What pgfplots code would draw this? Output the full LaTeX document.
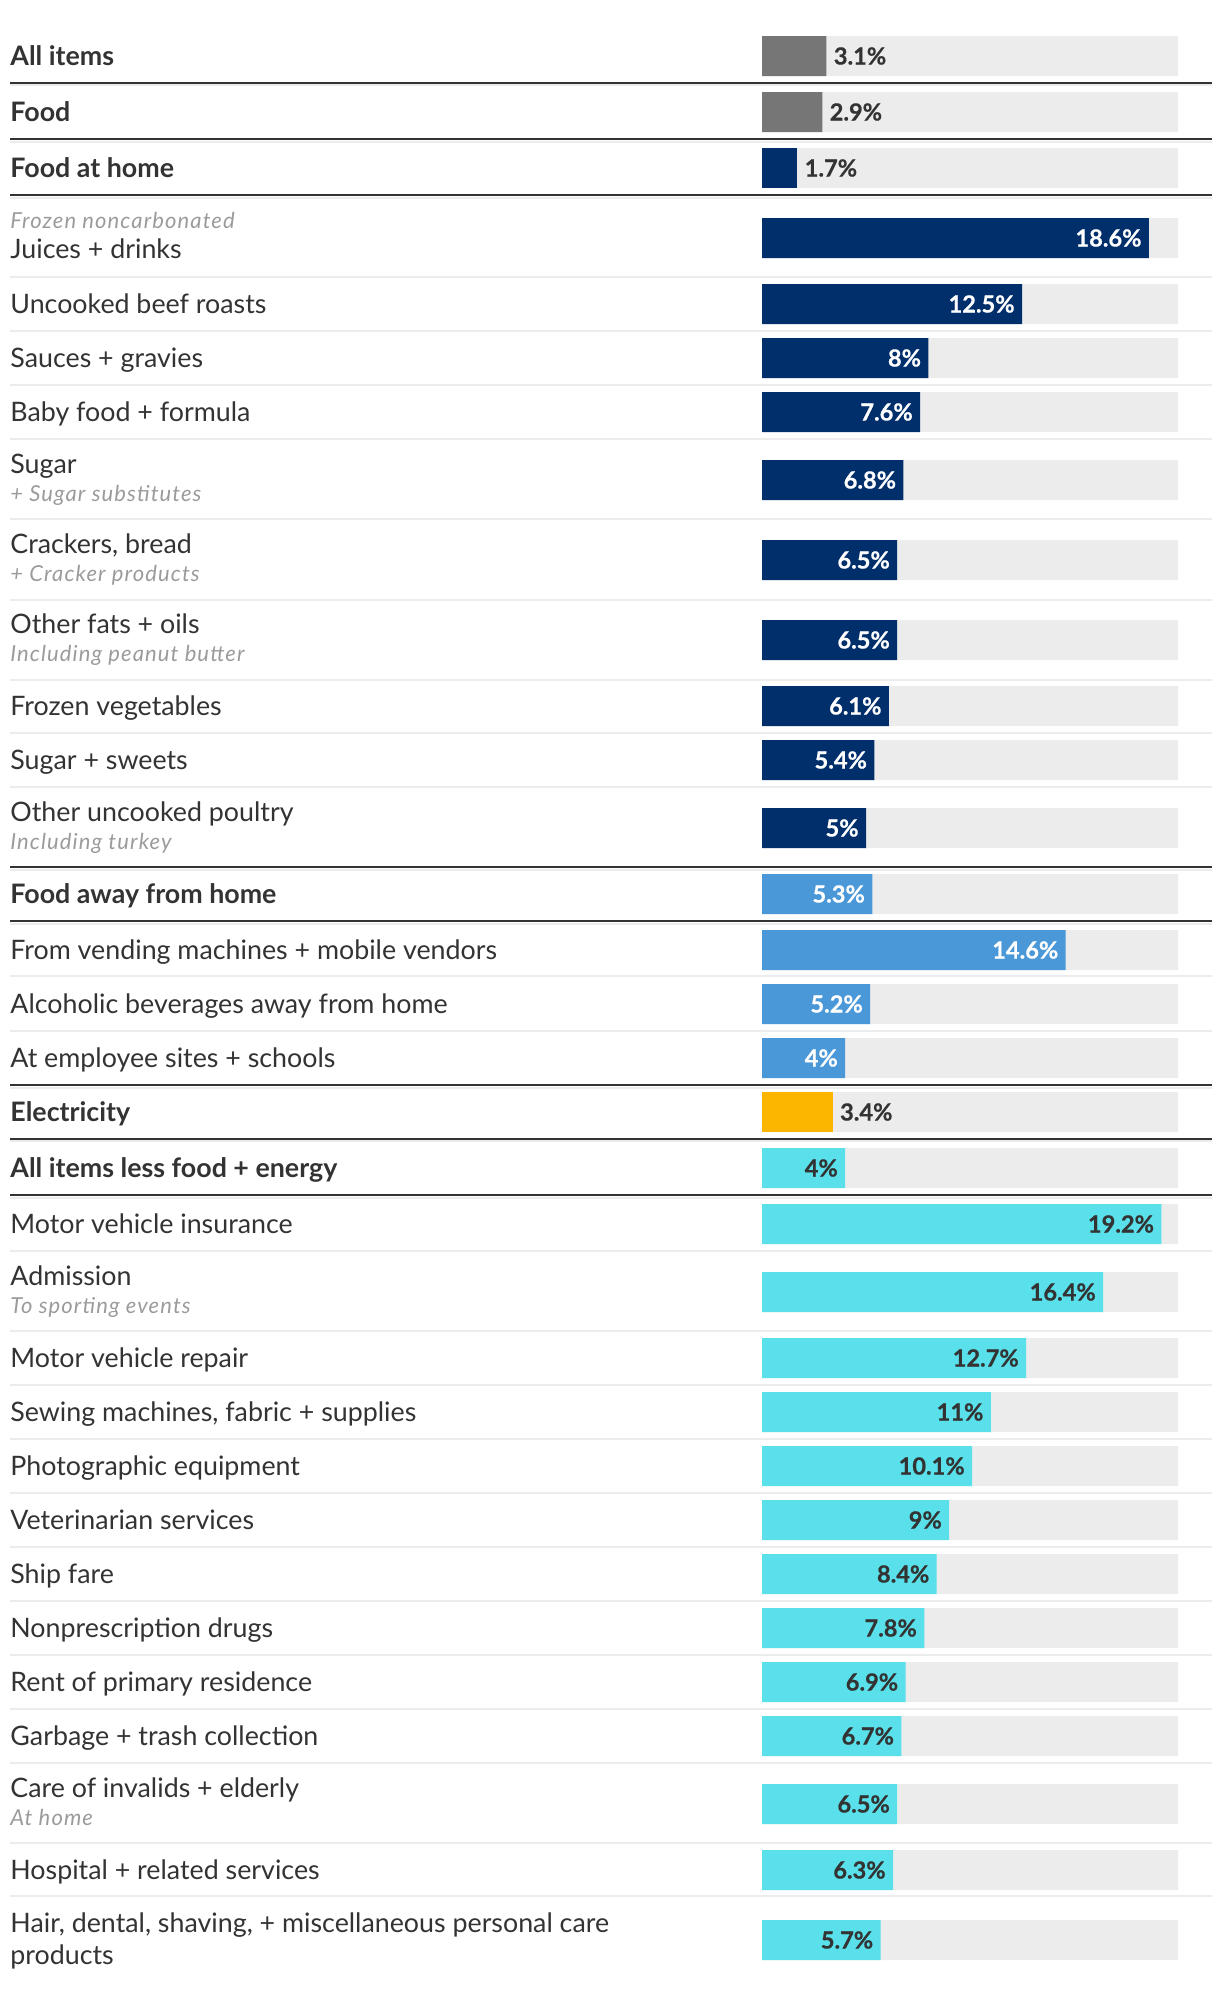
\documentclass[border=0pt]{standalone}
\usepackage{fontspec}
\setmainfont{Lato}
\newfontfamily\subfam[LetterSpace=5]{Lato}
\newfontfamily\valfam[BoldFeatures={FakeBold=0.6}]{Lato}
\usepackage{pgfplots}
\pgfplotsset{compat=1.18}
\definecolor{navy}{HTML}{002F6C}
\definecolor{gbar}{HTML}{767676}
\definecolor{lblue}{HTML}{4A98D8}
\definecolor{amber}{HTML}{FDB600}
\definecolor{cyanb}{HTML}{59E0EA}
\definecolor{bgc}{HTML}{ECECEC}
\definecolor{txt}{HTML}{333333}
\definecolor{subc}{HTML}{9B9B9B}
\definecolor{divl}{HTML}{ECECEC}
\newcommand\mainf{\fontsize{13.4}{16}\selectfont}
\newcommand\subf{\subfam\fontsize{11}{13}\selectfont\itshape}
\newcommand\valf{\valfam\fontsize{11.8}{14}\selectfont\bfseries}
\newcommand\lab[2]{\node[anchor=base west, inner sep=0pt, text=txt, font=\mainf] at (axis cs:-36.154,#1) {#2};}
\newcommand\blab[2]{\node[anchor=base west, inner sep=0pt, text=txt, font=\mainf\bfseries] at (axis cs:-36.154,#1) {#2};}
\newcommand\slab[2]{\node[anchor=base west, inner sep=0pt, text=subc, font=\subf] at (axis cs:-36.154,#1) {#2};}
\newcommand\dk[1]{\draw[divl, line width=1pt] (axis cs:-36.154,#1+2.7) -- (axis cs:21.63,#1+2.7);\draw[txt, line width=1pt] (axis cs:-36.154,#1) -- (axis cs:21.63,#1);}
\newcommand\lt[1]{\draw[divl, line width=0.9pt] (axis cs:-36.154,#1) -- (axis cs:21.63,#1);}
\begin{document}
\begin{tikzpicture}
\begin{axis}[
  scale only axis, width=610pt, height=996pt,
  xmin=-36.635, xmax=22.019, ymin=0, ymax=1992, y dir=reverse,
  hide axis, clip=false,
  /pgf/number format/assume math mode=true,
  nodes near coords={\pgfmathprintnumber{\pgfplotspointmeta}\%},
  point meta=x,
]
\path (axis cs:-36.635,0) rectangle (axis cs:22.019,1992);
% dividers
\dk{82.6}\dk{139}\dk{195}\dk{867}\dk{921}\dk{1085}\dk{1138.5}\dk{1195}
\lt{277}\lt{331}\lt{385}\lt{439}\lt{519}\lt{600}\lt{680}\lt{733}\lt{787}
\lt{976}\lt{1031}\lt{1251}\lt{1331}\lt{1385}\lt{1439}\lt{1493}\lt{1547}
\lt{1601}\lt{1655}\lt{1709}\lt{1763}\lt{1843}\lt{1896}
% background bars
\addplot[xbar, bar shift=0pt, bar width=40, fill=bgc, draw=none, nodes near coords={}] coordinates {
(20,56) (20,112) (20,168) (20,238) (20,304) (20,358) (20,412) (20,480)
(20,560) (20,640) (20,706) (20,760) (20,828) (20,894) (20,950) (20,1004)
(20,1058) (20,1112) (20,1168) (20,1224) (20,1292) (20,1358) (20,1412)
(20,1466) (20,1520) (20,1574) (20,1628) (20,1682) (20,1736) (20,1804)
(20,1870) (20,1940)};
% gray, outside labels
\addplot[xbar, bar shift=0pt, bar width=40, fill=gbar, draw=none,
  every node near coord/.append style={anchor=west, xshift=3.5pt, text=txt, font=\valf, inner sep=0pt}]
  coordinates {(3.1,56) (2.9,112)};
\addplot[xbar, bar shift=0pt, bar width=40, fill=navy, draw=none,
  every node near coord/.append style={anchor=west, xshift=3.5pt, text=txt, font=\valf, inner sep=0pt}]
  coordinates {(1.7,168)};
% navy inside
\addplot[xbar, bar shift=0pt, bar width=40, fill=navy, draw=none,
  every node near coord/.append style={anchor=east, xshift=-3.5pt, text=white, font=\valf, inner sep=0pt}]
  coordinates {(18.6,238) (12.5,304) (8,358) (7.6,412) (6.8,480) (6.5,560) (6.5,640) (6.1,706) (5.4,760) (5,828)};
% light blue inside
\addplot[xbar, bar shift=0pt, bar width=40, fill=lblue, draw=none,
  every node near coord/.append style={anchor=east, xshift=-3.5pt, text=white, font=\valf, inner sep=0pt}]
  coordinates {(5.3,894) (14.6,950) (5.2,1004) (4,1058)};
% amber outside
\addplot[xbar, bar shift=0pt, bar width=40, fill=amber, draw=none,
  every node near coord/.append style={anchor=west, xshift=3.5pt, text=txt, font=\valf, inner sep=0pt}]
  coordinates {(3.4,1112)};
% cyan inside
\addplot[xbar, bar shift=0pt, bar width=40, fill=cyanb, draw=none,
  every node near coord/.append style={anchor=east, xshift=-3.5pt, text=txt, font=\valf, inner sep=0pt}]
  coordinates {(4,1168) (19.2,1224) (16.4,1292) (12.7,1358) (11,1412) (10.1,1466) (9,1520) (8.4,1574) (7.8,1628) (6.9,1682) (6.7,1736) (6.5,1804) (6.3,1870) (5.7,1940)};
% row labels
\blab{65}{All items}
\blab{121}{Food}
\blab{177}{Food at home}
\slab{228}{Frozen noncarbonated}
\lab{258}{Juices + drinks}
\lab{313}{Uncooked beef roasts}
\lab{367}{Sauces + gravies}
\lab{421}{Baby food + formula}
\lab{473}{Sugar}
\slab{501}{+ Sugar substitutes}
\lab{553}{Crackers, bread}
\slab{581}{+ Cracker products}
\lab{633}{Other fats + oils}
\slab{661}{Including peanut butter}
\lab{715}{Frozen vegetables}
\lab{769}{Sugar + sweets}
\lab{821}{Other uncooked poultry}
\slab{849}{Including turkey}
\blab{903}{Food away from home}
\lab{959}{From vending machines + mobile vendors}
\lab{1013}{Alcoholic beverages away from home}
\lab{1067}{At employee sites + schools}
\blab{1121}{Electricity}
\blab{1177}{All items less food + energy}
\lab{1233}{Motor vehicle insurance}
\lab{1285}{Admission}
\slab{1313}{To sporting events}
\lab{1367}{Motor vehicle repair}
\lab{1421}{Sewing machines, fabric + supplies}
\lab{1475}{Photographic equipment}
\lab{1529}{Veterinarian services}
\lab{1583}{Ship fare}
\lab{1637}{Nonprescription drugs}
\lab{1691}{Rent of primary residence}
\lab{1745}{Garbage + trash collection}
\lab{1797}{Care of invalids + elderly}
\slab{1825}{At home}
\lab{1879}{Hospital + related services}
\lab{1932}{Hair, dental, shaving, + miscellaneous personal care}
\lab{1964}{products}
\end{axis}
\end{tikzpicture}
\end{document}
